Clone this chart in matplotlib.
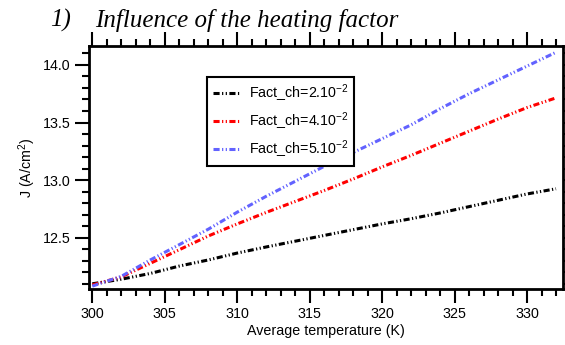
import matplotlib
matplotlib.use("Agg")
import matplotlib.pyplot as plt
from matplotlib.ticker import MultipleLocator

plt.rcParams["font.family"] = ["Liberation Sans", "DejaVu Sans"]
plt.rcParams["mathtext.default"] = "regular"

# average temperature (K)
temperature = [300, 302, 304, 306, 308, 310, 312, 314, 316, 318, 320,
               322, 324, 326, 328, 330, 332]

# current density J (A/cm2) for each heating factor
j_fact_2 = [12.10, 12.14, 12.19, 12.254, 12.307, 12.367, 12.42, 12.47, 12.52,
            12.57, 12.62, 12.665, 12.715, 12.77, 12.825, 12.88, 12.925]
j_fact_4 = [12.09, 12.16, 12.278, 12.396, 12.515, 12.62, 12.72, 12.815, 12.91,
            13.01, 13.115, 13.215, 13.32, 13.425, 13.53, 13.63, 13.714]
j_fact_5 = [12.08, 12.165, 12.307, 12.44, 12.574, 12.722, 12.86, 12.99, 13.12,
            13.24, 13.36, 13.48, 13.62, 13.75, 13.87, 13.99, 14.11]

labels = ["Fact_ch=2.10$^{-2}$", "Fact_ch=4.10$^{-2}$", "Fact_ch=5.10$^{-2}$"]
colors = ["black", "#ff0000", "#6262ff"]

dash_dot_dot = (0, (2.0, 0.8, 0.4, 0.8, 0.4, 0.8))

fig = plt.figure(figsize=(5.65, 3.45), dpi=100)
ax = fig.add_axes([89 / 565, 1 - 289 / 345, 474 / 565, 243.3 / 345])

for ys, lab, col in zip([j_fact_2, j_fact_4, j_fact_5], labels, colors):
    ax.plot(temperature, ys, color=col, lw=2.2, linestyle=dash_dot_dot, label=lab)

ax.set_xlim(299.77, 332.48)
ax.set_ylim(12.055, 14.167)
ax.xaxis.set_major_locator(MultipleLocator(5))
ax.xaxis.set_minor_locator(MultipleLocator(1))
ax.yaxis.set_major_locator(MultipleLocator(0.5))
ax.yaxis.set_minor_locator(MultipleLocator(0.1))
ax.yaxis.set_major_formatter(matplotlib.ticker.FormatStrFormatter("%.1f"))

ax.tick_params(which="both", direction="out", top=True, right=True,
               width=1.5, labelsize=10.3, color="black")
ax.tick_params(which="major", length=10, pad=3)
ax.tick_params(which="minor", length=5)
for sp in ax.spines.values():
    sp.set_linewidth(2)

ax.set_xlabel("Average temperature (K)", fontsize=10.3, labelpad=2)
ax.set_ylabel("J (A/cm$^{2}$)", fontsize=10.3, labelpad=4)

leg = ax.legend(loc="upper left", bbox_to_anchor=(0.249, 0.871),
                borderaxespad=0, fancybox=False, framealpha=1,
                edgecolor="black", fontsize=10.3, handlelength=1.9,
                handletextpad=0.6, labelspacing=0.45, borderpad=0.4)
leg.get_frame().set_linewidth(1.5)

fig.text(50 / 565, 1 - 26.7 / 345, "1)", family="Liberation Serif",
         style="italic", fontsize=18, va="baseline")
fig.text(95 / 565, 1 - 26.7 / 345, "Influence of the heating factor",
         family="Liberation Serif", style="italic", fontsize=18, va="baseline")

fig.savefig("out.png", dpi=100)
